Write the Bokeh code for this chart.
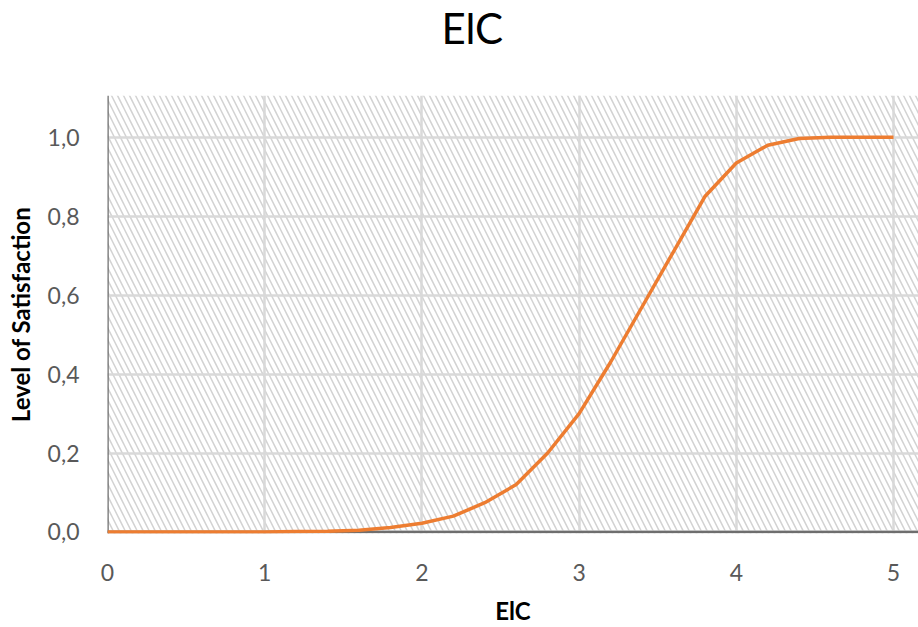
from bokeh.plotting import figure
from bokeh.models import BoxAnnotation, FixedTicker, Range1d, ColumnDataSource, Span, Title
from bokeh.embed import file_html
from bokeh.resources import INLINE

# Satisfaction curve sampled every 0.2 on the ElC axis
elc = [0.0, 0.2, 0.4, 0.6, 0.8, 1.0, 1.2, 1.4, 1.6, 1.8, 2.0, 2.2, 2.4,
       2.6, 2.8, 3.0, 3.2, 3.4, 3.6, 3.8, 4.0, 4.2, 4.4, 4.6, 4.8, 5.0]
satisfaction = [0.0, 0.0, 0.0, 0.0, 0.0, 0.0, 0.001, 0.002, 0.004, 0.011,
                0.022, 0.04, 0.074, 0.12, 0.2, 0.3, 0.43, 0.57, 0.71, 0.85,
                0.935, 0.98, 0.997, 1.0, 1.0, 1.0]

x_ticks = [0, 1, 2, 3, 4, 5]
y_ticks = [0.0, 0.2, 0.4, 0.6, 0.8, 1.0]
y_tick_labels = ["0,0", "0,2", "0,4", "0,6", "0,8", "1,0"]

FONT = "Lato"
AXIS_GREY = "#6e6e6e"

p = figure(width=918, height=627, output_backend="svg", toolbar_location=None,
           x_range=Range1d(0, 5.159), y_range=Range1d(-0.004, 1.106),
           title="ElC")
p.min_border_left = 107
p.min_border_right = 0
p.min_border_top = 95
p.min_border_bottom = 94
p.outline_line_color = None
p.background_fill_color = "white"
p.border_fill_color = "white"

# main title sits at the top of the upper panel
p.title.text_font = FONT
p.title.text_font_size = "42px"
p.title.text_font_style = "normal"
p.title.text_color = "#000000"
p.title.align = "left"
p.title.offset = 334
p.title.vertical_align = "top"
p.title.standoff = 2

# blank gap between the title and the plotting area
p.add_layout(Title(text=" ", text_font=FONT, text_font_size="10px",
                   standoff=26), "above")

# hatched plot area
hatch = BoxAnnotation(fill_color="white", fill_alpha=1.0, line_alpha=0,
                      hatch_pattern="\\", hatch_color="#d2d2d2",
                      hatch_weight=1.5, hatch_scale=12, level="image")
p.add_layout(hatch)

# grid
p.xgrid.ticker = FixedTicker(ticks=x_ticks)
p.ygrid.ticker = FixedTicker(ticks=y_ticks)
for g in (p.xgrid, p.ygrid):
    g.grid_line_color = "#d9d9d9"
    g.grid_line_width = 2.5

# axis lines sit beneath the curve
p.add_layout(Span(location=0, dimension="width", line_color=AXIS_GREY,
                  line_width=2.5, level="underlay"))
p.add_layout(Span(location=0, dimension="height", line_color=AXIS_GREY,
                  line_width=2.5, level="underlay"))

# axes
p.xaxis.ticker = FixedTicker(ticks=x_ticks)
p.yaxis.ticker = FixedTicker(ticks=y_ticks)
p.yaxis.major_label_overrides = dict(zip(y_ticks, y_tick_labels))
for ax in (p.xaxis, p.yaxis):
    ax.axis_line_color = None
    ax.major_tick_line_color = None
    ax.minor_tick_line_color = None
    ax.major_label_text_font = FONT
    ax.major_label_text_font_size = "23px"
    ax.major_label_text_color = "#595959"
    ax.axis_label_text_font = FONT
    ax.axis_label_text_font_size = "24px"
    ax.axis_label_text_font_style = "bold"
    ax.axis_label_text_color = "#000000"
p.xaxis.axis_label = "ElC"
p.yaxis.axis_label = "Level of Satisfaction"
p.xaxis.major_label_standoff = 24
p.yaxis.major_label_standoff = 22
p.xaxis.axis_label_standoff = 12
p.yaxis.axis_label_standoff = 10

src = ColumnDataSource(data=dict(x=elc, y=satisfaction))
p.line("x", "y", source=src, line_color="#ED7D31", line_width=3.5)

open("out.html", "w").write(file_html(p, INLINE))
